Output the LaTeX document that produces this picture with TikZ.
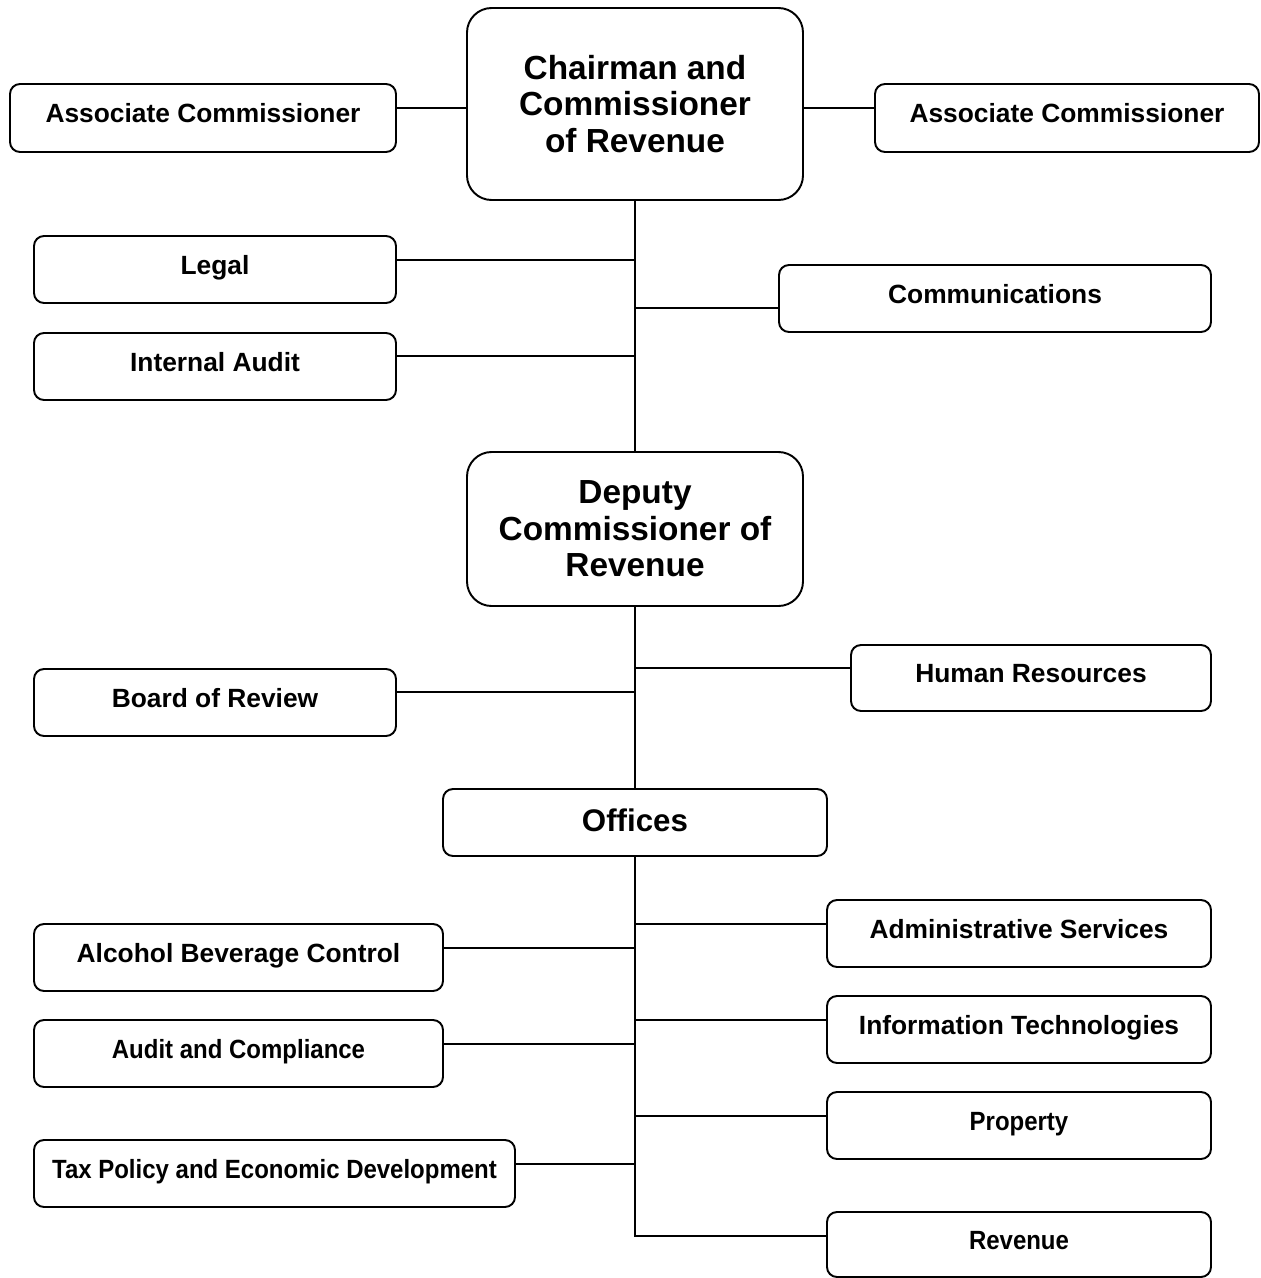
\documentclass[tikz,border=0pt]{standalone}
\usepackage{fontspec}
\setmainfont{Liberation Sans}
\newfontfamily\narrowsans[FakeStretch=0.91]{Liberation Sans}
\usepackage{tikz}
\tikzset{
  sz/.style 2 args={minimum width=#1*0.02cm,minimum height=#2*0.02cm},
  unit/.style={draw,rounded corners=5.7pt,line width=1.1pt,inner sep=0pt,
    font=\fontsize{15}{18}\selectfont\bfseries,text height=11pt,text depth=5.4pt},
  narrow/.style={font=\fontsize{15}{18}\selectfont\narrowsans\bfseries},
  office/.style={font=\fontsize{17.8}{20}\selectfont\bfseries,text height=12pt,text depth=1.3pt},
  head/.style={draw,rounded corners=14pt,line width=1.1pt,inner sep=0pt,align=center,
    font=\fontsize{19}{20.8}\selectfont\bfseries},
  link/.style={line width=1.1pt}
}

\begin{document}
\begin{tikzpicture}[x=0.02cm,y=-0.02cm]
\useasboundingbox (0,0) rectangle (1261,1278);
% top level
\node[head,sz={336}{192}] (chair) at (635,104) {Chairman and\\Commissioner\\of Revenue};
\node[unit,sz={386}{68}] (assocL) at (203,118) {Associate Commissioner};
\node[unit,sz={384}{68}] (assocR) at (1067,118) {Associate Commissioner};
\node[unit,sz={362}{67}] (legal) at (215,269.5) {Legal};
\node[unit,sz={432}{67}] (comm) at (995,298.5) {Communications};
\node[unit,sz={362}{67}] (iaudit) at (215,366.5) {Internal Audit};
% deputy level
\node[head,sz={336}{154}] (deputy) at (635,529) {Deputy\\Commissioner of\\Revenue};
\node[unit,sz={360}{66}] (hr) at (1031,678) {Human Resources};
\node[unit,sz={362}{67}] (board) at (215,702.5) {Board of Review};
% offices
\node[unit,office,sz={384}{67}] (offices) at (635,822.5) {Offices};
\node[unit,sz={384}{67}] (admin) at (1019,933.5) {Administrative Services};
\node[unit,sz={409}{67}] (abc) at (238.5,957.5) {Alcohol Beverage Control};
\node[unit,sz={384}{67}] (it) at (1019,1029.5) {Information Technologies};
\node[unit,narrow,sz={409}{67}] (audcomp) at (238.5,1053.5) {Audit and Compliance};
\node[unit,narrow,sz={384}{67}] (property) at (1019,1125.5) {Property};
\node[unit,narrow,sz={481}{67}] (taxpol) at (274.5,1173.5) {Tax Policy and Economic Development};
\node[unit,narrow,sz={384}{65}] (revenue) at (1019,1244.5) {Revenue};

% junctions on the trunk
\coordinate (hAssoc) at (635,108);
\coordinate (hLegal) at (635,260);
\coordinate (hComm) at (635,308);
\coordinate (hAudit) at (635,356);
\coordinate (hHR) at (635,668);
\coordinate (hBoard) at (635,692);
\coordinate (hAdmin) at (635,924);
\coordinate (hABC) at (635,948);
\coordinate (hIT) at (635,1020);
\coordinate (hAC) at (635,1044);
\coordinate (hProp) at (635,1116);
\coordinate (hTax) at (635,1164);
\coordinate (hRev) at (635,1236);

\draw[link] (assocL.east |- hAssoc) -- (chair.west |- hAssoc);
\draw[link] (chair.east |- hAssoc) -- (assocR.west |- hAssoc);
\draw[link] (chair.south) -- (deputy.north);
\draw[link] (legal.east |- hLegal) -- (hLegal);
\draw[link] (hComm) -- (comm.west |- hComm);
\draw[link] (iaudit.east |- hAudit) -- (hAudit);
\draw[link] (deputy.south) -- (offices.north);
\draw[link] (hHR) -- (hr.west |- hHR);
\draw[link] (board.east |- hBoard) -- (hBoard);
\draw[link] (offices.south) -- (hRev) -- (revenue.west |- hRev);
\draw[link] (hAdmin) -- (admin.west |- hAdmin);
\draw[link] (abc.east |- hABC) -- (hABC);
\draw[link] (hIT) -- (it.west |- hIT);
\draw[link] (audcomp.east |- hAC) -- (hAC);
\draw[link] (hProp) -- (property.west |- hProp);
\draw[link] (taxpol.east |- hTax) -- (hTax);
\end{tikzpicture}
\end{document}
